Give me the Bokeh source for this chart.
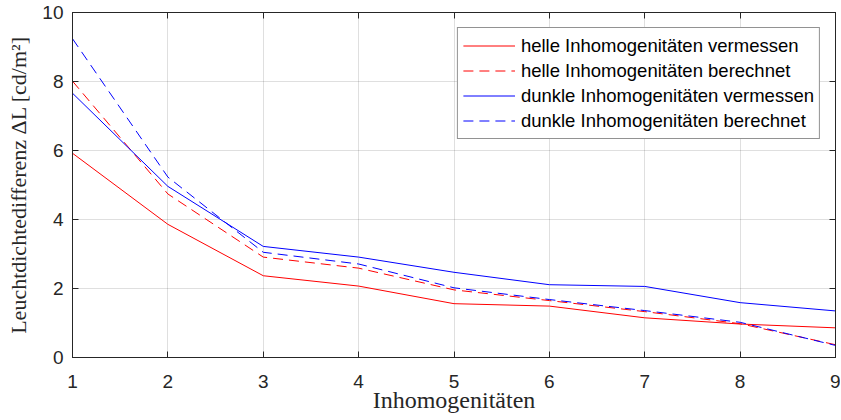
from bokeh.plotting import figure
from bokeh.models import LinearAxis, Range1d, FixedTicker, Legend, LegendItem
from bokeh.embed import file_html
from bokeh.resources import INLINE

x = [1, 2, 3, 4, 5, 6, 7, 8, 9]
helle_vermessen = [5.92, 3.86, 2.37, 2.07, 1.56, 1.49, 1.15, 0.97, 0.86]
helle_berechnet = [8.01, 4.74, 2.91, 2.59, 1.96, 1.65, 1.33, 0.98, 0.37]
dunkle_vermessen = [7.66, 4.96, 3.22, 2.91, 2.47, 2.11, 2.06, 1.59, 1.35]
dunkle_berechnet = [9.24, 5.23, 3.05, 2.71, 2.02, 1.68, 1.36, 1.02, 0.35]
labels = ["helle Inhomogenitäten vermessen", "helle Inhomogenitäten berechnet",
          "dunkle Inhomogenitäten vermessen", "dunkle Inhomogenitäten berechnet"]
x_ticks = [1, 2, 3, 4, 5, 6, 7, 8, 9]
y_ticks = [0, 2, 4, 6, 8, 10]

AX = "#262626"
p = figure(width=840, height=420, output_backend="svg", toolbar_location=None,
           x_range=Range1d(1, 9), y_range=Range1d(0, 10),
           min_border_left=72, min_border_right=5, min_border_top=12, min_border_bottom=63,
           x_axis_label="Inhomogenitäten",
           y_axis_label="Leuchtdichtedifferenz ΔL [cd/m²]")
p.outline_line_color = AX
p.outline_line_width = 1
p.background_fill_color = "white"
p.border_fill_color = "white"

r1 = p.line(x, helle_vermessen, line_color="#ff0000", line_width=1)
r2 = p.line(x, helle_berechnet, line_color="#ff0000", line_width=1, line_dash="10 6")
r3 = p.line(x, dunkle_vermessen, line_color="#0000ff", line_width=1)
r4 = p.line(x, dunkle_berechnet, line_color="#0000ff", line_width=1, line_dash="10 6")

for ax in p.xaxis + p.yaxis:
    ax.axis_line_color = AX
    ax.major_tick_line_color = AX
    ax.major_tick_in = 6
    ax.major_tick_out = 0
    ax.minor_tick_line_color = None
    ax.major_label_text_font = "Liberation Sans"
    ax.major_label_text_font_size = "19px"
    ax.major_label_text_color = AX
    ax.axis_label_text_font = "Liberation Serif"
    ax.axis_label_text_font_style = "normal"
    ax.axis_label_text_color = AX

p.xaxis.ticker = FixedTicker(ticks=x_ticks)
p.yaxis.ticker = FixedTicker(ticks=y_ticks)
p.xaxis.major_label_standoff = 17
p.yaxis.major_label_standoff = 9
p.xaxis.axis_label_standoff = -4
p.yaxis.axis_label_standoff = 8
p.xaxis.axis_label_text_font_size = "24px"
p.yaxis.axis_label_text_font_size = "22px"

for loc, ticks in (("right", y_ticks), ("above", x_ticks)):
    a = LinearAxis(ticker=FixedTicker(ticks=ticks), axis_line_color=AX,
                   major_tick_line_color=AX, major_tick_in=6, major_tick_out=0,
                   minor_tick_line_color=None, major_label_text_font_size="1px",
                   major_label_text_color=None, major_label_standoff=0,
                   major_label_overrides={t: "" for t in ticks})
    p.add_layout(a, loc)

p.xgrid.ticker = FixedTicker(ticks=x_ticks)
p.ygrid.ticker = FixedTicker(ticks=y_ticks)
p.grid.grid_line_color = AX
p.grid.grid_line_alpha = 0.15

legend = Legend(items=[LegendItem(label=labels[0], renderers=[r1]),
                       LegendItem(label=labels[1], renderers=[r2]),
                       LegendItem(label=labels[2], renderers=[r3]),
                       LegendItem(label=labels[3], renderers=[r4])],
                location="top_right", margin=15, padding=5, spacing=0,
                glyph_width=52, glyph_height=25, label_height=25, label_standoff=6,
                label_text_font="Liberation Sans", label_text_font_size="18.5px",
                label_text_color="black", border_line_color=AX, border_line_width=1,
                background_fill_color="white", background_fill_alpha=1)
p.add_layout(legend, "center")

open("out.html", "w").write(file_html(p, INLINE))
